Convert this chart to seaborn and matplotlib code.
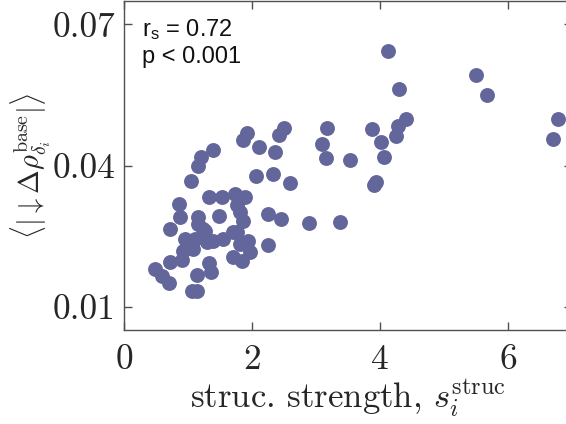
import matplotlib
matplotlib.use("Agg")
import matplotlib.pyplot as plt
import seaborn as sns
import pandas as pd

# structural strength (x) and mean |down delta rho| (y)
strength = [4.12, 5.50, 5.67, 4.30, 6.78, 6.70, 4.41, 4.28, 4.25, 3.875,
            4.02, 4.06, 3.17, 3.09, 3.16, 3.53, 3.91, 3.94, 2.89, 3.375,
            1.92, 1.86, 2.50, 2.42, 2.11, 2.36, 1.39, 1.20, 1.16, 1.05,
            2.06, 2.33, 2.59, 1.33, 1.53, 1.73, 1.89, 1.77, 0.86, 0.875,
            1.16, 1.48, 1.81, 1.86, 2.25, 2.45, 0.72, 1.16, 1.27, 0.95,
            1.11, 1.27, 1.39, 1.55, 1.70, 1.77, 1.94, 1.81, 1.97, 1.70,
            1.84, 2.25, 0.92, 1.08, 1.30, 0.72, 0.91, 0.48, 0.59, 0.70,
            1.14, 1.33, 1.36, 1.06, 1.14, 1.23]
delta_rho = [0.0644, 0.0593, 0.0549, 0.0563, 0.0500, 0.0457, 0.0500, 0.0483, 0.0462, 0.0477,
             0.0451, 0.0419, 0.0479, 0.0445, 0.0415, 0.0411, 0.0358, 0.0364, 0.0277, 0.0279,
             0.0470, 0.0455, 0.0479, 0.0464, 0.0440, 0.0428, 0.0432, 0.0419, 0.0400, 0.0366,
             0.0377, 0.0381, 0.0362, 0.0334, 0.0334, 0.0339, 0.0334, 0.0315, 0.0318, 0.0290,
             0.0290, 0.0292, 0.0301, 0.0281, 0.0296, 0.0286, 0.0265, 0.0275, 0.0260, 0.0243,
             0.0243, 0.0243, 0.0239, 0.0243, 0.0258, 0.0258, 0.0239, 0.0233, 0.0216, 0.0205,
             0.0197, 0.0231, 0.0218, 0.0222, 0.0237, 0.0195, 0.0199, 0.0180, 0.0165, 0.0150,
             0.0167, 0.0192, 0.0173, 0.0133, 0.0133, 0.0265]

xticks = [0, 2, 4, 6]
yticks = [0.01, 0.04, 0.07]
ytick_labels = ["0.01", "0.04", "0.07"]

df = pd.DataFrame({"s": strength, "d": delta_rho})

sns.set_style("ticks")
plt.rcParams["font.family"] = ["cmr10", "DejaVu Serif"]
plt.rcParams["mathtext.fontset"] = "cm"
plt.rcParams["axes.formatter.use_mathtext"] = True

fig = plt.figure(figsize=(5.66, 4.24), dpi=100)
ax = fig.add_axes([124 / 566, 94 / 424, 448 / 566, 329 / 424])

sns.scatterplot(data=df, x="s", y="d", ax=ax, color="#63669a", s=115,
                linewidth=0, alpha=1.0, zorder=3)

ax.set_xlim(0, 7)
ax.set_ylim(0.005, 0.075)
ax.set_xticks(xticks)
ax.set_xticklabels([str(t) for t in xticks])
ax.set_yticks(yticks)
ax.set_yticklabels(ytick_labels)

for sp in ax.spines.values():
    sp.set_visible(True)
    sp.set_color("#505050")
    sp.set_linewidth(1.0)
ax.tick_params(direction="in", length=6, width=1.0, color="#505050",
               top=True, right=True, labelsize=25.5, labelcolor="#262626")
ax.tick_params(axis="y", pad=6)
ax.tick_params(axis="x", pad=10)

ax.set_xlabel(r"struc. strength, $s_i^{\mathrm{struc}}$", fontsize=25,
              color="#262626", labelpad=1)
ax.set_ylabel(r"$\langle |\downarrow \Delta\rho^{\mathrm{base}}_{\delta_i}|\rangle$",
              fontsize=20.5, color="#262626", labelpad=0)

ax.text(0.04, 0.95, r"$\mathregular{r_s}$ = 0.72" + "\n" + "p < 0.001",
        transform=ax.transAxes, ha="left", va="top", fontsize=17,
        family=["Liberation Sans", "DejaVu Sans"], color="#111111",
        linespacing=1.2)

fig.savefig("out.png", dpi=100)
